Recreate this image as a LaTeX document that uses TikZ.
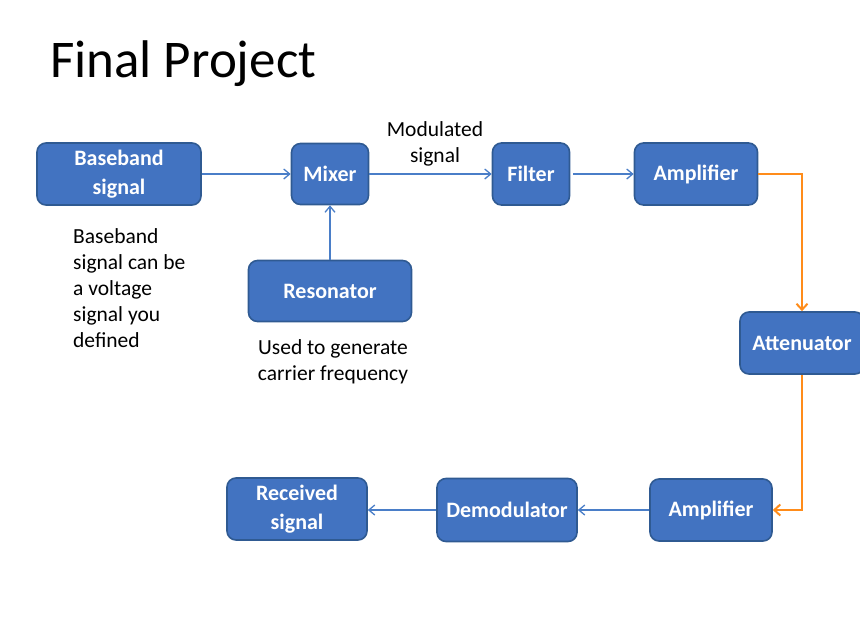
\documentclass[tikz,border=0pt]{standalone}
\usepackage{fontspec}
\setmainfont{Carlito}
\usepackage{tikz}
\usetikzlibrary{arrows.meta,positioning}
\definecolor{boxblue}{HTML}{4273C1}
\definecolor{boxline}{HTML}{2F5A92}
\definecolor{linkblue}{HTML}{4A7EC8}
\definecolor{linkorange}{HTML}{FF8C1A}

\begin{document}
\begin{tikzpicture}[x=1pt, y=-1pt,
  box/.style={draw=boxline, fill=boxblue, line width=1.6pt, rounded corners=9pt,
    text=white, align=center, inner sep=0pt, font=\fontsize{22}{29}\selectfont\bfseries},
  arrow/.style={-{Straight Barb[length=6pt, width=10pt]}, draw=linkblue, line width=1.3pt},
  warm/.style={-{Straight Barb[length=6pt, width=11pt]}, draw=linkorange, line width=2pt},
  lab/.style={align=left, inner sep=0pt, font=\fontsize{21.5}{26}\selectfont}
]
\useasboundingbox (0,0) rectangle (860,638);
\node[anchor=base west, inner sep=0pt, font=\fontsize{53}{55}\selectfont] (title) at (50,77) {Final Project};

\node[box, minimum width=164pt, minimum height=62pt] (base) at (119,174) {Baseband\\signal};
\node[box, minimum width=77pt, minimum height=61pt] (mix) at (330,174) {Mixer};
\node[box, minimum width=77pt, minimum height=62pt] (filt) at (531,174) {Filter};
\node[box, minimum width=123pt, minimum height=62pt] (amp) at (696,174) {Amplifier};
\node[box, minimum width=163pt, minimum height=61pt] (res) at (330,291) {Resonator};
\node[box, minimum width=124pt, minimum height=62pt] (att) at (802,343) {Attenuator};
\node[box, minimum width=122pt, minimum height=62pt] (amptwo) at (711,510) {Amplifier};
\node[box, minimum width=140pt, minimum height=63pt] (demod) at (507,510) {Demodulator};
\node[box, minimum width=140pt, minimum height=62pt] (recv) at (297,509) {Received\\signal};

\node[lab, anchor=north west] (basenote) at (73,228) {Baseband\\signal can be\\a voltage\\signal you\\defined};
\node[lab, align=center, anchor=north] (resnote) at (333,339) {Used to generate\\carrier frequency};
\node[lab, align=center, anchor=north] (modnote) at (435,121) {Modulated\\signal};

\draw[arrow] (base.east) -- (base.east -| mix.west);
\draw[arrow] (mix.east) -- (filt.west);
\draw[arrow] ([xshift=3pt]filt.east) -- (amp.west);
\draw[arrow] (res.north) -- (mix.south);
\draw[warm] (amp.east) -| (att.north);
\draw[warm] (att.south) |- (amptwo.east);
\draw[arrow] (amptwo.west) -- (demod.west -| demod.east);
\draw[arrow] (demod.west) -- (recv.east |- demod.west);
\end{tikzpicture}
\end{document}
